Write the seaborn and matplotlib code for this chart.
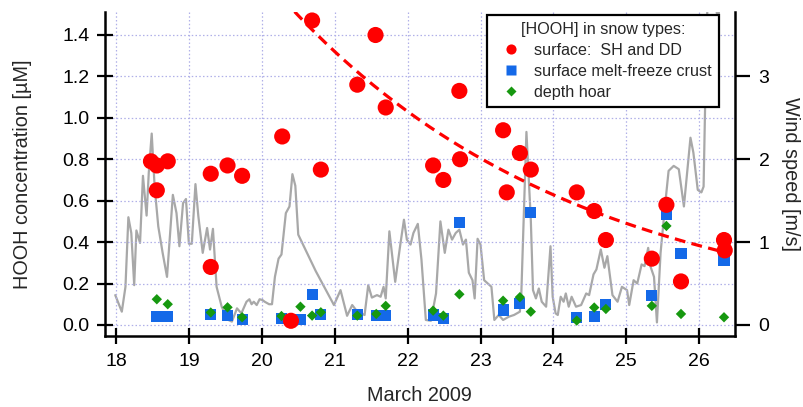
import numpy as np
import pandas as pd
import matplotlib
matplotlib.use("Agg")
import matplotlib.pyplot as plt
from matplotlib.lines import Line2D
import seaborn as sns

# ---- snow sample H2O2 concentrations (day of March 2009, µM) ----
days_sh = [18.48, 18.56, 18.71, 18.56, 19.30, 19.53, 19.73, 19.30, 20.28, 20.40,
           20.69, 20.81, 21.31, 21.56, 21.70, 22.35, 22.49, 22.71, 22.72, 23.31,
           23.36, 23.54, 23.69, 24.32, 24.56, 24.72, 25.35, 25.55, 25.75, 26.34, 26.35]
hooh_sh = [0.79, 0.77, 0.79, 0.65, 0.73, 0.77, 0.72, 0.28, 0.91, 0.02,
           1.47, 0.75, 1.16, 1.40, 1.05, 0.77, 0.70, 1.13, 0.80, 0.94,
           0.64, 0.83, 0.75, 0.64, 0.55, 0.41, 0.32, 0.58, 0.21, 0.41, 0.36]

days_mf = [18.56, 18.71, 19.30, 19.53, 19.73, 20.27, 20.53, 20.69, 20.81, 21.31,
           21.57, 21.70, 22.35, 22.49, 22.71, 23.31, 23.54, 23.69, 24.32, 24.56,
           24.72, 25.35, 25.55, 25.75, 26.34]
hooh_mf = [0.040, 0.040, 0.050, 0.045, 0.027, 0.032, 0.027, 0.145, 0.050, 0.050,
           0.045, 0.045, 0.048, 0.032, 0.494, 0.072, 0.105, 0.542, 0.035, 0.040,
           0.100, 0.140, 0.535, 0.346, 0.310]

days_dh = [18.56, 18.71, 19.30, 19.53, 19.73, 20.27, 20.53, 20.69, 20.81, 21.31,
           21.57, 21.70, 22.35, 22.49, 22.71, 23.31, 23.54, 23.69, 24.32, 24.56,
           24.72, 25.35, 25.55, 25.75, 26.34]
hooh_dh = [0.124, 0.100, 0.060, 0.085, 0.037, 0.043, 0.088, 0.045, 0.061, 0.045,
           0.053, 0.092, 0.069, 0.045, 0.148, 0.117, 0.134, 0.064, 0.021, 0.084,
           0.077, 0.092, 0.478, 0.053, 0.037]

# points along the exponential decay of surface-snow H2O2
fit_days = [20.40, 20.73, 22.14, 23.50, 24.95, 26.31]
fit_hooh = [1.52, 1.41, 1.01, 0.72, 0.48, 0.36]

# ---- wind speed (m/s) ----
wind_days = [17.99, 18.08, 18.13, 18.17, 18.21, 18.25, 18.28, 18.33, 18.37, 18.42,
             18.45, 18.49, 18.53, 18.58, 18.64, 18.70, 18.78, 18.83, 18.87, 18.92,
             18.96, 19.00, 19.04, 19.09, 19.13, 19.19, 19.25, 19.29, 19.33, 19.38,
             19.45, 19.54, 19.59, 19.66, 19.72, 19.79, 19.83, 19.86, 19.89, 19.93,
             19.97, 20.01, 20.04, 20.10, 20.14, 20.18, 20.23, 20.27, 20.33, 20.38,
             20.42, 20.46, 20.50, 20.74, 20.99, 21.08, 21.17, 21.24, 21.31, 21.41,
             21.46, 21.51, 21.58, 21.63, 21.67, 21.70, 21.75, 21.83, 21.90, 21.95,
             21.99, 22.04, 22.08, 22.14, 22.19, 22.25, 22.32, 22.39, 22.45, 22.51,
             22.56, 22.61, 22.66, 22.71, 22.76, 22.80, 22.84, 22.89, 22.92, 22.96,
             23.00, 23.05, 23.10, 23.15, 23.19, 23.25, 23.31, 23.39, 23.46, 23.54,
             23.56, 23.63, 23.69, 23.72, 23.76, 23.80, 23.84, 23.90, 23.96, 23.99,
             24.03, 24.06, 24.10, 24.14, 24.17, 24.21, 24.25, 24.31, 24.38, 24.45,
             24.49, 24.55, 24.59, 24.65, 24.70, 24.74, 24.81, 24.88, 24.94, 25.01,
             25.04, 25.10, 25.15, 25.21, 25.25, 25.30, 25.33, 25.38, 25.42, 25.47,
             25.53, 25.58, 25.65, 25.72, 25.79, 25.88, 25.92, 25.98, 26.03, 26.06,
             26.08, 26.11, 26.15, 26.26, 26.31]
wind_speed = [0.36, 0.16, 0.46, 1.30, 1.11, 0.48, 1.14, 0.99, 1.80, 1.32,
              1.84, 2.31, 1.67, 1.19, 0.87, 0.58, 1.57, 1.35, 0.95, 1.47,
              1.52, 0.98, 0.98, 1.70, 1.31, 0.87, 1.17, 0.91, 1.16, 0.46,
              0.22, 0.06, 0.04, 0.20, 0.14, 0.28, 0.31, 0.25, 0.28, 0.24,
              0.31, 0.30, 0.28, 0.25, 0.25, 0.58, 0.80, 0.85, 1.35, 1.43,
              1.82, 1.68, 1.09, 0.65, 0.24, 0.42, 0.11, 0.24, 0.16, 0.12,
              0.48, 0.33, 0.36, 0.34, 0.46, 0.32, 1.13, 0.52, 0.97, 1.27,
              1.03, 0.97, 1.11, 1.22, 0.79, 0.06, 0.05, 0.38, 1.25, 0.87,
              1.15, 1.03, 1.11, 1.15, 0.97, 1.03, 0.63, 0.54, 0.32, 1.04,
              0.97, 0.54, 0.50, 0.46, 0.06, 0.12, 0.06, 0.10, 0.12, 0.16,
              0.38, 2.33, 1.27, 0.42, 0.32, 0.44, 0.28, 0.22, 0.95, 0.34,
              0.14, 0.12, 0.34, 0.28, 0.38, 0.22, 0.34, 0.22, 0.24, 0.38,
              0.36, 0.61, 0.67, 0.91, 0.69, 0.83, 0.36, 0.28, 0.46, 0.42,
              0.24, 0.54, 0.50, 0.73, 0.71, 0.93, 0.71, 0.58, 0.03, 0.87,
              1.43, 1.86, 1.92, 1.88, 1.43, 2.26, 2.08, 1.63, 1.60, 1.67,
              2.60, 3.77, 4.30, 3.66, 4.30]

x_ticks = [18, 19, 20, 21, 22, 23, 24, 25, 26]
y_ticks = [0.0, 0.2, 0.4, 0.6, 0.8, 1.0, 1.2, 1.4]
wind_ticks = [0, 1, 2, 3]

legend_title = "[HOOH] in snow types:"
legend_labels = ["surface:  SH and DD", "surface melt-freeze crust", "depth hoar"]

RED = "#ff0000"
BLUE = "#1469e8"
GREEN = "#16980f"
GRAY = "#a8a8a8"
GRID = "#b0b0e8"

sns.set_theme(style="white")
plt.rcParams["font.family"] = ["Liberation Sans", "DejaVu Sans"]

fig = plt.figure(figsize=(8.04, 4.07), dpi=100)
ax = fig.add_axes([0.1302, 0.1752, 0.7839, 0.7953])
ax2 = ax.twinx()

# wind speed underneath the snow data
sns.lineplot(x=wind_days, y=wind_speed, ax=ax2, color=GRAY, linewidth=1.6,
             sort=False, estimator=None)

# exponential decay fitted through the surface-snow trend
coef = np.polyfit(fit_days, np.log(fit_hooh), 1)
xx = np.linspace(20.2, 26.33, 200)
fit_df = pd.DataFrame({"day": xx, "hooh": np.exp(np.polyval(coef, xx))})
sns.lineplot(data=fit_df, x="day", y="hooh", ax=ax, color=RED, linewidth=2.3,
             dashes=False, zorder=2)
ax.lines[-1].set_dashes((3.4, 2.0))

sns.scatterplot(x=days_mf, y=hooh_mf, ax=ax, marker="s", s=64, color=BLUE,
                edgecolor="none", linewidth=0, zorder=3)
sns.scatterplot(x=days_dh, y=hooh_dh, ax=ax, marker="D", s=28, color=GREEN,
                edgecolor="none", linewidth=0, zorder=4)
sns.scatterplot(x=days_sh, y=hooh_sh, ax=ax, marker="o", s=135, color=RED,
                edgecolor="none", linewidth=0, zorder=5)

# snow axes on top of the wind axes
ax.set_zorder(ax2.get_zorder() + 1)
ax.patch.set_visible(False)

ax.set_xlim(17.845, 26.49)
ax.set_ylim(-0.052, 1.511)
ax2.set_ylim(-0.052 / 0.4, 1.511 / 0.4)

ax.set_xticks(x_ticks)
ax.set_xticklabels([str(t) for t in x_ticks])
ax.set_yticks(y_ticks)
ax.set_yticklabels([f"{t:.1f}" for t in y_ticks])
ax2.set_yticks(wind_ticks)
ax2.set_yticklabels([str(t) for t in wind_ticks])

ax.grid(True, color=GRID, linestyle=(0, (1.2, 1.8)), linewidth=0.9)
ax2.grid(False)

for a in (ax, ax2):
    for side, sp in a.spines.items():
        sp.set_color("black")
        sp.set_linewidth(1.8)
    a.spines["top"].set_visible(False)
ax.spines["right"].set_visible(False)
ax2.spines["left"].set_visible(False)
ax2.spines["bottom"].set_visible(False)

ax.tick_params(axis="both", direction="inout", length=11.5, width=1.6,
               labelsize=14, colors="black", pad=5,
               left=True, bottom=True, right=False, top=False)
ax.tick_params(axis="x", pad=7)
ax2.tick_params(axis="y", direction="out", length=11, width=1.6, labelsize=14,
                colors="black", pad=6, right=True)

ax.set_xlabel("March 2009", fontsize=14.3)
ax.set_ylabel("HOOH concentration [µM]", fontsize=14.3)
ax2.set_ylabel("Wind speed [m/s]", fontsize=14.3, rotation=270)
ax.xaxis.set_label_coords(0.5, -0.155)
ax.yaxis.set_label_coords(-0.115, 0.5)
ax2.yaxis.set_label_coords(1.088, 0.5)
ax2.yaxis.label.set_va("center")

handles = [
    Line2D([], [], linestyle="none", marker="o", markersize=7.3,
           markerfacecolor=RED, markeredgecolor="none"),
    Line2D([], [], linestyle="none", marker="s", markersize=7.0,
           markerfacecolor=BLUE, markeredgecolor="none"),
    Line2D([], [], linestyle="none", marker="D", markersize=4.8,
           markerfacecolor=GREEN, markeredgecolor="none"),
]
leg = ax.legend(handles, legend_labels, title=legend_title, loc="upper right",
                bbox_to_anchor=(0.9746, 0.9907), borderaxespad=0,
                fontsize=11.6, title_fontsize=11.6, frameon=True, fancybox=False,
                framealpha=1, edgecolor="black", handlelength=2.1,
                handletextpad=0.38, labelspacing=0.36, borderpad=0.45)
leg.get_frame().set_linewidth(1.6)

fig.savefig("out.png", dpi=100)
